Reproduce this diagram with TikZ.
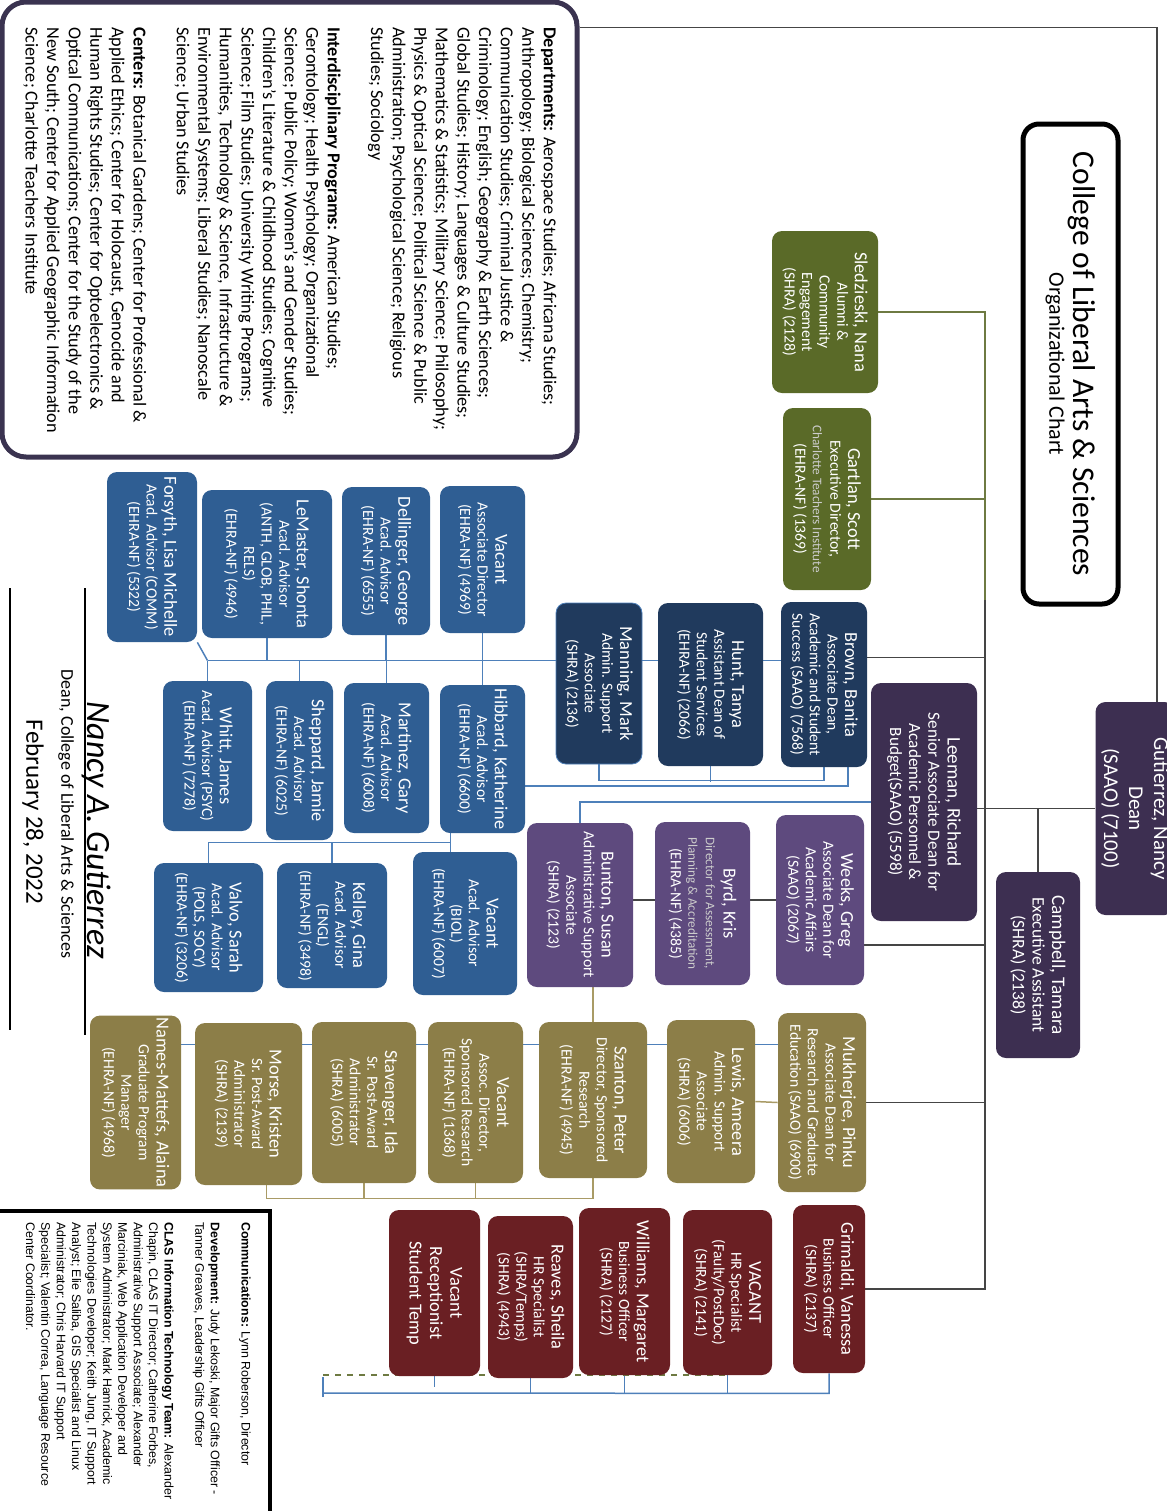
\documentclass[tikz,border=0pt]{standalone}
\usepackage{fontspec}
\setmainfont{Carlito}
\newfontfamily\memofont{Liberation Sans}
\usetikzlibrary{positioning, backgrounds, calc}
\definecolor{cdean}{HTML}{3D2F51}
\definecolor{cpurple}{HTML}{5E4A7E}
\definecolor{cnavy}{HTML}{203A5D}
\definecolor{cblue}{HTML}{2F5E93}
\definecolor{colive}{HTML}{5A6A28}
\definecolor{cgold}{HTML}{8C7E48}
\definecolor{cmaroon}{HTML}{6A1F23}
\definecolor{cframe}{HTML}{3A3350}
\definecolor{cline}{HTML}{454545}
\definecolor{cblueline}{HTML}{4E80BA}
\definecolor{coliveline}{HTML}{6E7A42}
\definecolor{cgoldline}{HTML}{A99B66}
\newcommand{\boxname}[1]{{\fontsize{9.2}{10}\selectfont #1}}
\newcommand{\boxfine}[1]{{\fontsize{6.6}{7.4}\selectfont\color{white!80!black}#1}}
\tikzset{
  card/.style={fill=#1, rounded corners=5pt, text=white, align=center, rotate=-90, inner sep=1pt, font=\fontsize{7.8}{8.8}\selectfont},
  card/.default=cblue,
  sz/.style 2 args={minimum width=#1pt, minimum height=#2pt},
  link/.style={draw=#1, line width=0.75pt},
  link/.default=cline,
  blurb/.style={rotate=-90, align=left, inner sep=0pt, anchor=north west},
}

\begin{document}
\begin{tikzpicture}[x=0.5pt, y=-0.5pt]
  \useasboundingbox (0,0) rectangle (1167,1511);
  \clip (0,0) rectangle (1167,1511);
  % departments, programs and centers
  \node[draw=cframe, line width=2.5pt, rounded corners=12pt, fill=white, rotate=-90, sz={227.5}{287.5}] (depts) at (289.5,229.5) {};
  \node[blurb, font=\fontsize{9.1}{10.8}\selectfont] (deptlist) at (557,27) {%
    \textbf{Departments:} Aerospace Studies; Africana Studies;\\
    Anthropology; Biological Sciences; Chemistry;\\
    Communication Studies; Criminal Justice \&\\
    Criminology; English; Geography \& Earth Sciences;\\
    Global Studies; History; Languages \& Culture Studies;\\
    Mathematics \& Statistics; Military Science; Philosophy;\\
    Physics \& Optical Science; Political Science \& Public\\
    Administration; Psychological Science; Religious\\
    Studies; Sociology\\[10.8pt]
    \textbf{Interdisciplinary Programs:} American Studies;\\
    Gerontology; Health Psychology; Organizational\\
    Science; Public Policy; Women's and Gender Studies;\\
    Children's Literature \& Childhood Studies; Cognitive\\
    Science; Film Studies; University Writing Programs;\\
    Humanities, Technology \& Science, Infrastructure \&\\
    Environmental Systems; Liberal Studies; Nanoscale\\
    Science; Urban Studies\\[10.8pt]
    \textbf{Centers:} Botanical Gardens; Center for Professional \&\\
    Applied Ethics; Center for Holocaust, Genocide and\\
    Human Rights Studies; Center for Optoelectronics \&\\
    Optical Communications; Center for the Study of the\\
    New South; Center for Applied Geographic Information\\
    Science; Charlotte Teachers Institute};
  % title
  \node[draw, line width=2.5pt, rounded corners=8pt, fill=white, rotate=-90, align=center, sz={240}{47.5}] (title) at (1070.5,364)
    {{\fontsize{15.8}{17}\selectfont College of Liberal Arts \& Sciences}\\ {\fontsize{11}{12}\selectfont Organizational Chart}};
  % dean's office
  \node[card=cdean, sz={106.5}{39.5}, font=\fontsize{10.5}{12.5}\selectfont] (dean) at (1135,808.5) {Gutierrez, Nancy\\ Dean\\ (SAAO) (7100)};
  \node[card=cdean, sz={93}{42}, font=\fontsize{8.8}{9.8}\selectfont] (campbell) at (1038,965) {{\fontsize{9.6}{10}\selectfont Campbell, Tamara}\\ Executive Assistant\\ (SHRA) (2138)};
  \node[card=cdean, sz={119}{53}, font=\fontsize{8.6}{9.6}\selectfont] (leeman) at (924,802) {{\fontsize{9.6}{10}\selectfont Leeman, Richard}\\ Senior Associate Dean for\\ Academic Personnel \&\\ Budget(SAAO) (5598)};
  \node[card=colive, sz={81}{53}] (sled) at (825,312) {\boxname{Sledzieski, Nana}\\ Alumni \&\\ Community\\ Engagement\\ (SHRA) (2128)};
  \node[card=colive, sz={91}{44}] (gart) at (827,499) {\boxname{Gartlan, Scott}\\ Executive Director,\\ \boxfine{Charlotte Teachers Institute}\\ (EHRA-NF) (1369)};
  % student success
  \node[card=cnavy, sz={82.5}{43}] (brown) at (824,684.5) {\boxname{Brown, Banita}\\ Associate Dean,\\ Academic and Student\\ Success (SAAO) (7568)};
  \node[card=cnavy, sz={81.5}{52.5}] (hunt) at (710.5,684.5) {\boxname{Hunt, Tanya}\\ Assistant Dean of\\ Student Services\\ (EHRA-NF) (2066)};
  \node[card=cnavy, draw=cblueline, sz={80.5}{43}] (manning) at (599,683.5) {\boxname{Manning, Mark}\\ Admin. Support\\ Associate\\ (SHRA) (2136)};
  % advisors
  \node[card, sz={73.5}{42.5}] (vacad) at (482.5,559.5) {\boxname{Vacant}\\ Associate Director\\ (EHRA-NF) (4969)};
  \node[card, sz={74}{44}] (dell) at (386,561) {\boxname{Dellinger, George}\\ Acad. Advisor\\ (EHRA-NF) (6555)};
  \node[card, sz={74}{65}] (lemaster) at (267,564) {\boxname{LeMaster, Shonta}\\ Acad. Advisor\\ (ANTH, GLOB, PHIL,\\ RELS)\\ (EHRA-NF) (4946)};
  \node[card, sz={85}{45}] (forsyth) at (152,557) {\boxname{Forsyth, Lisa Michelle}\\ Acad. Advisor (COMM)\\ (EHRA-NF) (5322)};
  \node[card, sz={74}{42.5}] (hibbard) at (482.5,759) {\boxname{Hibbard, Katherine}\\ Acad. Advisor\\ (EHRA-NF) (6600)};
  \node[card, sz={75}{42.5}] (martinez) at (386.5,758) {\boxname{Martinez, Gary}\\ Acad. Advisor\\ (EHRA-NF) (6008)};
  \node[card, sz={79.5}{33.5}] (sheppard) at (299.5,760.5) {\boxname{Sheppard, Jamie}\\ Acad. Advisor\\ (EHRA-NF) (6025)};
  \node[card, sz={75}{44.5}] (whitt) at (207.5,756) {\boxname{Whitt, James}\\ Acad. Advisor (PSYC)\\ (EHRA-NF) (7278)};
  \node[card, sz={71.5}{52}] (vacbiol) at (465,923.5) {\boxname{Vacant}\\ Acad. Advisor\\ (BIOL)\\ (EHRA-NF) (6007)};
  \node[card, sz={62.5}{55}] (kelley) at (332,925.5) {\boxname{Kelley, Gina}\\ Acad. Advisor\\ (ENGL)\\ (EHRA-NF) (3498)};
  \node[card, sz={64.5}{54.5}] (valvo) at (208.5,927.5) {\boxname{Valvo, Sarah}\\ Acad. Advisor\\ (POLS, SOCY)\\ (EHRA-NF) (3206)};
  % academic affairs
  \node[card=cpurple, sz={85}{44}] (weeks) at (820,900) {\boxname{Weeks, Greg}\\ Associate Dean for\\ Academic Affairs\\ (SAAO) (2067)};
  \node[card=cpurple, sz={81.5}{47.5}] (byrd) at (702.5,903.5) {\boxname{Byrd, Kris}\\ \boxfine{Director for Assessment,}\\ \boxfine{Planning \& Accreditation}\\ (EHRA-NF) (4385)};
  \node[card=cpurple, sz={82}{53}] (bunton) at (580,905) {\boxname{Bunton, Susan}\\ Administrative Support\\ Associate\\ (SHRA) (2123)};
  % research and graduate education
  \node[card=cgold, sz={89.5}{44}] (mukh) at (822,1102.5) {\boxname{Mukherjee, Pinku}\\ Associate Dean for\\ Research and Graduate\\ Education (SAAO) (6900)};
  \node[card=cgold, sz={81.5}{44}] (lewis) at (711,1101.5) {\boxname{Lewis, Ameera}\\ Admin. Support\\ Associate\\ (SHRA) (6006)};
  \node[card=cgold, sz={78}{54}] (szanton) at (593,1100) {\boxname{Szanton, Peter}\\ Director, Sponsored\\ Research\\ (EHRA-NF) (4945)};
  \node[card=cgold, sz={80.5}{47.5}] (vacsr) at (475.5,1102.5) {\boxname{Vacant}\\ Assoc. Director,\\ Sponsored Research\\ (EHRA-NF) (1368)};
  \node[card=cgold, sz={80.5}{52}] (stav) at (364,1102.5) {\boxname{Stavenger, Ida}\\ Sr. Post-Award\\ Administrator\\ (SHRA) (6005)};
  \node[card=cgold, sz={81}{53.5}] (morse) at (248.5,1104) {\boxname{Morse, Kristen}\\ Sr. Post-Award\\ Administrator\\ (SHRA) (2139)};
  \node[card=cgold, sz={79.5}{45.5}] (names) at (135.5,1102.5) {\boxname{Names-Mattefs, Alaina}\\ Graduate Program\\ Manager\\ (EHRA-NF) (4968)};
  % business office
  \node[card=cmaroon, sz={84}{36}] (grim) at (829,1289) {\boxname{Grimaldi, Vanessa}\\ Business Officer\\ (SHRA) (2137)};
  \node[card=cmaroon, sz={82.5}{44.5}] (vachr) at (727.5,1292.5) {\boxname{VACANT}\\ HR Specialist\\ (Faulty/PostDoc)\\ (SHRA) (2141)};
  \node[card=cmaroon, sz={83.5}{45.5}] (will) at (624.5,1291.5) {\boxname{Williams, Margaret}\\ Business Officer\\ (SHRA) (2127)};
  \node[card=cmaroon, sz={81}{42.5}] (reaves) at (530.5,1297) {\boxname{Reaves, Sheila}\\ HR Specialist\\ (SHRA/Temps)\\ (SHRA) (4943)};
  \node[card=cmaroon, sz={83}{45.5}, font=\fontsize{9.2}{10.2}\selectfont] (recep) at (434.5,1293) {Vacant\\ Receptionist\\ Student Temp};
  % support staff
  \draw[line width=2.2pt] (-10,1211) rectangle (270,1530);
  \node[blurb, font=\memofont\fontsize{6.2}{7.7}\selectfont] (memo) at (251,1222) {%
    \textbf{Communications:} Lynn Roberson, Director\\[7.7pt]
    \textbf{Development:} Judy Lekoski, Major Gifts Officer -\\
    Tanner Greaves, Leadership Gifts Officer\\[7.7pt]
    \textbf{CLAS Information Technology Team:} Alexander\\
    Chapin, CLAS IT Director; Catherine Forbes,\\
    Administrative Support Associate; Alexander\\
    Marciniak, Web Application Developer and\\
    System Administrator; Mark Hamrick, Academic\\
    Technologies Developer; Keith Jung, IT Support\\
    Analyst; Elie Saliba, GIS Specialist and Linux\\
    Administrator; Chris Harvard IT Support\\
    Specialist; Valentin Correa, Language Resource\\
    Center Coordinator.};
  % signature
  \draw[line width=0.6pt] (85,588) -- (85,1035);
  \draw[line width=0.6pt] (10,588) -- (10,1030);
  \node[rotate=-90, font=\itshape\fontsize{17}{17}\selectfont] (sign) at (97,830) {Nancy A. Gutierrez};
  \node[rotate=-90, font=\fontsize{9}{10}\selectfont] (signrole) at (66,814) {Dean, College of Liberal Arts \& Sciences};
  \node[rotate=-90, font=\fontsize{12.5}{13}\selectfont] (signdate) at (33,812) {February 28, 2022};
  % connectors
  \begin{scope}[on background layer]
    \coordinate (spine) at (985,600);
    \draw[link] ([yshift=-14pt]depts.north west) -| ([xshift=11pt]dean.west);
    \draw[link=coliveline] (sled.north) -| (spine);
    \draw[link=coliveline] (gart.north) -- (gart.north -| spine);
    \draw[link] (spine) -- (spine |- grim.north) -- (grim.north);
    \draw[link] ([yshift=13.5pt]brown.north) -- ([yshift=13.5pt]brown.north -| spine);
    \draw[link] (dean.south) -- (leeman.north |- dean.south);
    \draw[link] (campbell.west) -- (campbell.west |- dean.south);
    \draw[link] ([yshift=-22.5pt]weeks.north) -- ([yshift=-22.5pt]weeks.north -| spine);
    \draw[link] (mukh.north) -- (mukh.north -| spine);
    % student success and advisors
    \coordinate (advline) at ([yshift=12pt]brown.south);
    \draw[link=cblueline] (advline) -- (advline -| whitt.west);
    \foreach \n in {whitt, sheppard, martinez, hibbard}
      \draw[link=cblueline] (\n.west) -- (\n.west |- advline);
    \foreach \n in {vacad, dell, lemaster}
      \draw[link=cblueline] (\n.east) -- (\n.east |- advline);
    \draw[link=cblueline] (forsyth.north east) -- (advline -| whitt.west);
    \draw[link=cblueline] (manning.east) -- ++(0,-8pt) -| (brown.east);
    \draw[link=cblueline] (hunt.east) -- ++(0,-8pt);
    \draw[link=cblueline] ([xshift=12pt]brown.east) |- ([yshift=-13.5pt]hibbard.north);
    \coordinate (lowbus) at ([xshift=-16pt,yshift=-4.5pt]hibbard.east);
    \draw[link=cblueline] ([xshift=-16pt]hibbard.east) -- (lowbus) -- (lowbus |- vacbiol.west);
    \draw[link=cblueline] (lowbus) -| (valvo.west);
    \draw[link=cblueline] (kelley.west) -- (kelley.west |- lowbus);
    % academic affairs
    \draw[link=cblueline] (leeman.south) -| (bunton.west);
    \draw[link] (weeks.south) -- (weeks.south -| bunton.north);
    \draw[link=cgoldline] (szanton.west) -- (szanton.west |- bunton.east);
    % research
    \draw[link=cgoldline] (mukh.south) -- (lewis.north);
    \draw[link=cblueline] ([yshift=29pt]mukh.south) -- ([yshift=29pt]mukh.south -| names.north);
    \coordinate (goldbus) at ([yshift=-10pt]szanton.east);
    \draw[link=cgoldline] (szanton.east) -- (goldbus) -| ([xshift=9pt]morse.east);
    \foreach \n in {vacsr, stav}
      \draw[link=cgoldline] (\n.east) -- (\n.east |- goldbus);
    % business office
    \coordinate (redbus) at ([yshift=-10pt]grim.east);
    \coordinate (redend) at (323,1393);
    \draw[link=cblueline] (grim.east) -- (redbus) -- (redend);
    \foreach \n in {vachr, will, reaves}
      \draw[link=cblueline] (\n.east) -- (\n.east |- redbus);
    \draw[link=cblueline] (recep.east) -- ++(0,-5.5pt);
    \draw[link=cblueline] ([yshift=8pt]redend) -- ([yshift=-2pt]redend);
    \draw[link=coliveline, dashed] ([yshift=9pt]redend) -- ([yshift=9pt]redend -| vachr.east);
  \end{scope}
\end{tikzpicture}
\end{document}
